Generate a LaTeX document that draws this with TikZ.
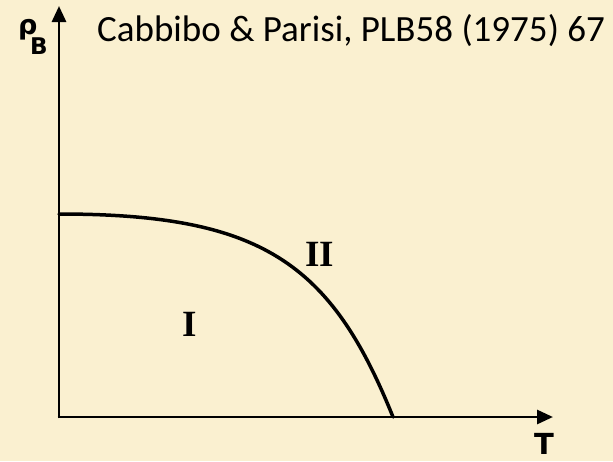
\documentclass[tikz,border=0pt]{standalone}
\usepackage{fontspec}
\setmainfont{Carlito}
\newfontfamily\dvsans{DejaVu Sans}
\newfontfamily\lserif{Liberation Serif}
\usetikzlibrary{arrows.meta}
\definecolor{paper}{RGB}{250,240,208}
\tikzset{
  axisline/.style={line width=2.9pt, -{Triangle[length=16pt,width=14pt]}},
  boundary/.style={line width=3.5pt, line cap=round, line join=round},
  roman/.style={font=\lserif\bfseries\fontsize{37}{37}\selectfont, inner sep=0pt},
  axlabel/.style={font=\dvsans\bfseries\fontsize{29}{29}\selectfont, inner sep=0pt},
  title/.style={font=\fontsize{37}{37}\selectfont, inner sep=0pt, anchor=base west}
}
\begin{document}
\begin{tikzpicture}[x=1pt,y=-1pt]
\fill[paper] (0,0) rectangle (613,461);
\useasboundingbox (0,0) rectangle (613,461);
\coordinate (O) at (59,417);
\coordinate (ytip) at (59,6);
\coordinate (xtip) at (553,417);
\coordinate (top) at (59,214);
\coordinate (foot) at (393,417);
\draw[axisline] ([yshift=-1.45pt]O) -- (ytip);
\draw[axisline] ([xshift=-1.45pt]O) -- (xtip);
\draw[boundary] (top) .. controls (262,214) and (331,263) .. (foot);
\node[axlabel] (T) at (544,444) {T};
\node[inner sep=0pt, anchor=base west, font=\dvsans\bfseries\fontsize{27}{27}\selectfont] (rho) at (18,34) {ρ};
\node[inner sep=0pt, anchor=base west, font=\dvsans\bfseries\fontsize{23}{23}\selectfont] (B) at (30,54) {B};
\node[roman] (one) at (190,324) {I};
\node[roman] (two) at (320,254) {II};
\node[title] (ref) at (97,41) {Cabbibo \& Parisi, PLB58 (1975) 67};
\end{tikzpicture}
\end{document}
